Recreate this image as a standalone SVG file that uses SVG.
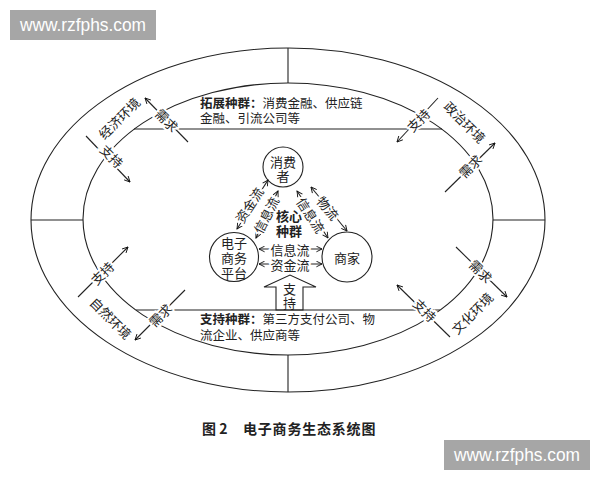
<svg xmlns="http://www.w3.org/2000/svg" width="600" height="480" viewBox="0 0 600 480">
<defs>
<marker id="ah" viewBox="0 0 10 10" refX="9" refY="5" markerWidth="7" markerHeight="7" orient="auto-start-reverse" markerUnits="userSpaceOnUse">
<path d="M1,1 L9,5 L1,9" fill="none" stroke="#111" stroke-width="1.3"/>
</marker>
<style>
.ln{fill:none;stroke:#222;stroke-width:1.1}
.ar{fill:none;stroke:#222;stroke-width:1.1;marker-end:url(#ah)}
.ar2{fill:none;stroke:#222;stroke-width:1.1;marker-end:url(#ah);marker-start:url(#ah)}
.t{font-family:"Noto Sans CJK SC","Liberation Serif",serif;font-size:13px;fill:#222;text-anchor:middle;dominant-baseline:central}
.h{stroke:#fff;stroke-width:4;paint-order:stroke}
.tl{font-family:"Noto Sans CJK SC","Liberation Serif",serif;font-size:12.5px;fill:#222}
.b{font-weight:bold}
.wm{fill:#a6a6a6}
.wt{font-family:"Liberation Sans",Arial,sans-serif;font-size:18px;fill:#fff}
</style>
</defs>
<rect width="600" height="480" fill="#fff"/>

<g id="rings">
<ellipse class="ln" cx="288" cy="220" rx="257" ry="172"/>
<ellipse class="ln" cx="288" cy="219" rx="205" ry="136"/>
<line class="ln" x1="288" y1="48" x2="288" y2="83"/>
<line class="ln" x1="288" y1="355" x2="288" y2="392"/>
<line class="ln" x1="31" y1="220" x2="83" y2="220"/>
<line class="ln" x1="493" y1="220" x2="545" y2="220"/>
<line class="ln" x1="134" y1="129" x2="442" y2="129"/>
<line class="ln" x1="136" y1="310" x2="440" y2="310"/>
</g>

<g id="connectors">
<line class="ar2" x1="237" y1="229" x2="268" y2="180"/>
<line class="ar2" x1="256" y1="238" x2="278" y2="191"/>
<line class="ar2" x1="297" y1="191" x2="328" y2="238"/>
<line class="ar2" x1="311" y1="187" x2="347" y2="231"/>
<line class="ar2" x1="259" y1="249" x2="322" y2="249"/>
<line class="ar2" x1="259" y1="264" x2="322" y2="264"/>
<line class="ar" x1="188" y1="142" x2="145" y2="98"/>
<line class="ar" x1="86" y1="136" x2="130" y2="182"/>
<line class="ar" x1="438" y1="98" x2="397" y2="142"/>
<line class="ar" x1="445" y1="192" x2="495" y2="143"/>
<line class="ar" x1="78" y1="297" x2="128" y2="247"/>
<line class="ar" x1="185" y1="290" x2="135" y2="340"/>
<line class="ar" x1="456" y1="247" x2="507" y2="297"/>
<line class="ar" x1="450" y1="337" x2="397" y2="285"/>
</g>

<g id="flow-labels">
<text class="t h" transform="translate(249,205) rotate(-57)">资金流</text>
<text class="t h" transform="translate(266,215) rotate(-63)">信息流</text>
<text class="t h" transform="translate(311,215) rotate(57)">信息流</text>
<text class="t h" transform="translate(328,208) rotate(50)">物流</text>
<text class="t h" x="290" y="249">信息流</text>
<text class="t h" x="290" y="264">资金流</text>
</g>

<g id="ring-labels">
<text class="t h" transform="translate(167,120) rotate(45)">需求</text>
<text class="t h" transform="translate(112,156) rotate(45)">支持</text>
<text class="t h" transform="translate(119,118) rotate(-45)">经济环境</text>
<text class="t h" transform="translate(418,120) rotate(-45)">支持</text>
<text class="t h" transform="translate(470,166) rotate(-45)">需求</text>
<text class="t h" transform="translate(465,122) rotate(45)">政治环境</text>
<text class="t h" transform="translate(102,273) rotate(-45)">支持</text>
<text class="t h" transform="translate(160,315) rotate(-45)">需求</text>
<text class="t h" transform="translate(111,318) rotate(45)">自然环境</text>
<text class="t h" transform="translate(481,271) rotate(45)">需求</text>
<text class="t h" transform="translate(425,310) rotate(45)">支持</text>
<text class="t h" transform="translate(472,313) rotate(-45)">文化环境</text>
</g>

<g id="consumer">
<circle class="ln" cx="283" cy="167" r="20"/>
<text class="t"><tspan x="283" y="161">消费</tspan><tspan x="283" y="175">者</tspan></text>
</g>

<g id="platform">
<circle class="ln" cx="234" cy="257" r="24.5"/>
<text class="t"><tspan x="234" y="242">电子</tspan><tspan x="234" y="257">商务</tspan><tspan x="234" y="272">平台</tspan></text>
</g>

<g id="merchant">
<circle class="ln" cx="347" cy="257" r="25"/>
<text class="t" x="347" y="257">商家</text>
</g>

<g id="core">
<text class="t b"><tspan x="289" y="215">核心</tspan><tspan x="289" y="230">种群</tspan></text>
</g>

<g id="support-arrow">
<polygon class="ln" points="276,310 276,287 264,287 290,275 316,287 303,287 303,310"/>
<text class="t" x="289.5" y="297" style="writing-mode:vertical-rl;letter-spacing:1px">支持</text>
</g>

<g id="expansion">
<text class="tl"><tspan x="200" y="108"><tspan class="b">拓展种群：</tspan>消费金融、供应链</tspan><tspan x="200" y="123">金融、引流公司等</tspan></text>
</g>

<g id="support">
<text class="tl"><tspan x="200" y="324"><tspan class="b">支持种群：</tspan>第三方支付公司、物</tspan><tspan x="200" y="340">流企业、供应商等</tspan></text>
</g>

<g id="caption">
<text class="tl b" style="font-size:14px"><tspan x="202" y="434">图 2</tspan><tspan x="243" y="434" style="letter-spacing:0.8px">电子商务生态系统图</tspan></text>
</g>

<g id="watermarks">
<rect class="wm" x="10" y="10" width="146" height="30"/>
<text class="wt" x="20" y="31" textLength="126" lengthAdjust="spacingAndGlyphs">www.rzfphs.com</text>
<rect class="wm" x="444" y="440" width="146" height="30"/>
<text class="wt" x="454" y="461" textLength="126" lengthAdjust="spacingAndGlyphs">www.rzfphs.com</text>
</g>
</svg>
